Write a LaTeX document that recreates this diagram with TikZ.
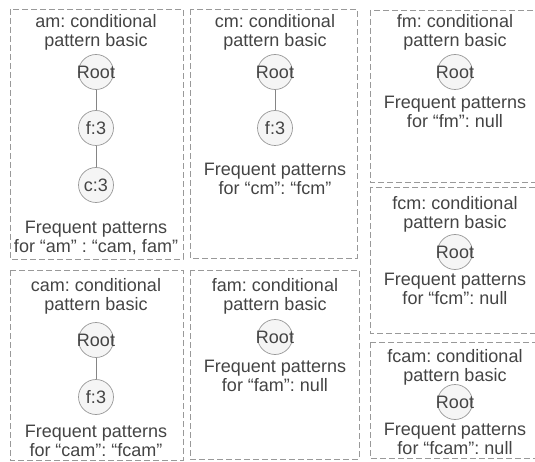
\documentclass[tikz,border=0pt]{standalone}
\usepackage{fontspec}
\setmainfont{Liberation Sans}
\usepackage{tikz}
\frenchspacing

\definecolor{txt}{HTML}{444444}
\definecolor{dash}{HTML}{999999}
\definecolor{ring}{HTML}{999999}
\definecolor{disc}{HTML}{F5F5F5}

\tikzset{
  box/.style={draw=dash, line width=0.8pt, dash pattern=on 6pt off 3pt},
  n/.style={circle, draw=ring, fill=disc, line width=0.7pt, minimum size=35pt,
    inner sep=0pt, text=txt, font=\fontsize{18}{19}\selectfont},
  t/.style={align=center, inner sep=0pt, text=txt, font=\fontsize{18}{19}\selectfont},
  e/.style={draw=ring!120, line width=0.7pt}
}
\newcommand{\rt}{\makebox[0pt]{Root}}

\begin{document}
\begin{tikzpicture}[x=10pt,y=-10pt]
  \clip (0,0) rectangle (53.5,46.2);
  % frames
  \draw[box] (1.0,0.9) rectangle (18.3,25.9);
  \draw[box] (19.0,0.9) rectangle (35.7,25.8);
  \draw[box] (37.0,1.0) rectangle (54.5,18.2);
  \draw[box] (37.0,18.7) rectangle (54.5,33.3);
  \draw[box] (37.0,34.2) rectangle (54.5,45.8);
  \draw[box] (1.0,27.0) rectangle (18.3,46.0);
  \draw[box] (19.0,27.0) rectangle (35.9,45.9);
  % am
  \node(amT) at (9.6,3.2)[t]{am: conditional\\pattern basic};
  \node(amR) at (9.6,7.2)[n]{\rt};
  \node(amF) at (9.6,12.8)[n]{f:3};
  \node(amC) at (9.6,18.5)[n]{c:3};
  \node(amP) at (9.6,23.8)[t]{Frequent patterns\\for “am” : “cam, fam”};
  \draw[e](amR) -- (amF);
  \draw[e](amF) -- (amC);
  % cm
  \node(cmT) at (27.5,3.2)[t]{cm: conditional\\pattern basic};
  \node(cmR) at (27.5,7.2)[n]{\rt};
  \node(cmF) at (27.5,12.8)[n]{f:3};
  \node(cmP) at (27.5,17.9)[t]{Frequent patterns\\for “cm”: “fcm”};
  \draw[e](cmR) -- (cmF);
  % fm
  \node(fmT) at (45.5,3.2)[t]{fm: conditional\\pattern basic};
  \node(fmR) at (45.5,7.2)[n]{\rt};
  \node(fmP) at (45.5,11.2)[t]{Frequent patterns\\for “fm”: null};
  % fcm
  \node(fcmT) at (45.5,21.4)[t]{fcm: conditional\\pattern basic};
  \node(fcmR) at (45.5,25.2)[n]{\rt};
  \node(fcmP) at (45.5,28.9)[t]{Frequent patterns\\for “fcm”: null};
  % fcam
  \node(fcamT) at (45.5,36.7)[t]{fcam: conditional\\pattern basic};
  \node(fcamR) at (45.5,40.2)[n]{\rt};
  \node(fcamP) at (45.5,43.9)[t]{Frequent patterns\\for “fcam”: null};
  % cam
  \node(camT) at (9.6,29.6)[t]{cam: conditional\\pattern basic};
  \node(camR) at (9.6,34.0)[n]{\rt};
  \node(camF) at (9.6,39.7)[n]{f:3};
  \node(camP) at (9.6,44.1)[t]{Frequent patterns\\for “cam”: “fcam”};
  \draw[e](camR) -- (camF);
  % fam
  \node(famT) at (27.5,29.6)[t]{fam: conditional\\pattern basic};
  \node(famR) at (27.5,33.7)[n]{\rt};
  \node(famP) at (27.5,37.6)[t]{Frequent patterns\\for “fam”: null};
\end{tikzpicture}
\end{document}
